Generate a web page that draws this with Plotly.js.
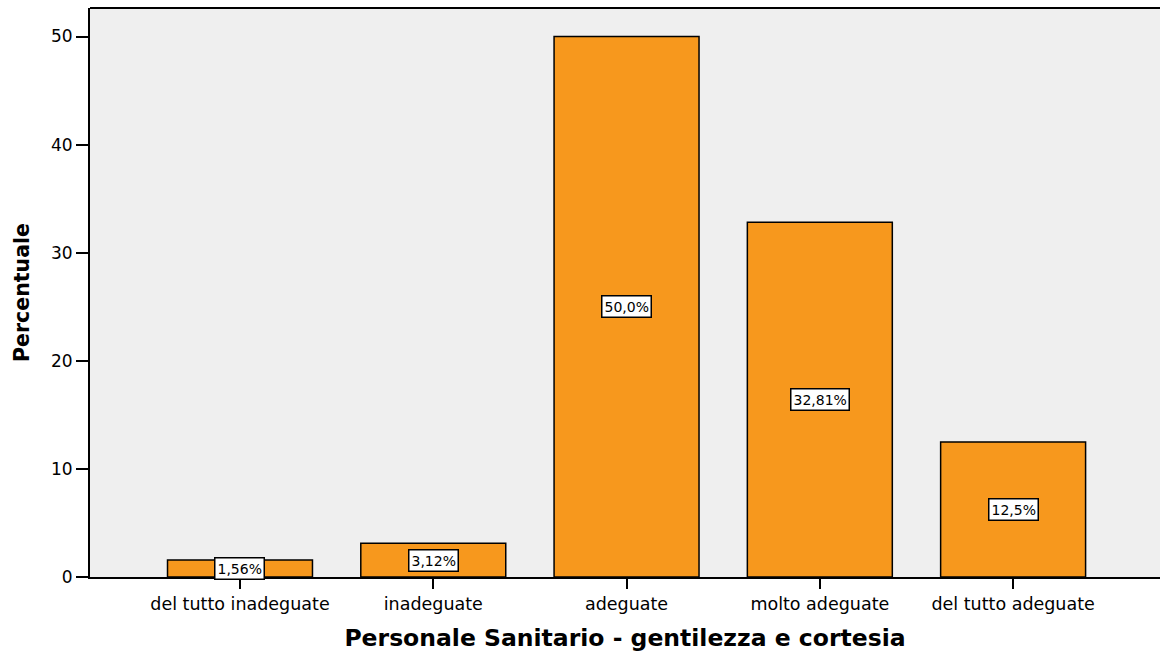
<!DOCTYPE html>
<html>
<head>
<meta charset="utf-8">
<script src="https://cdn.plot.ly/plotly-3.0.1.min.js"></script>
<style>
  html, body { margin: 0; padding: 0; background: #fff; }
  #chart { width: 1160px; height: 654px; }
</style>
</head>
<body>
<div id="chart"></div>
<script>
// Risposte: Personale Sanitario - gentilezza e cortesia
const categories = ['del tutto inadeguate', 'inadeguate', 'adeguate', 'molto adeguate', 'del tutto adeguate'];
const percentValues = [1.5625, 3.125, 50.0, 32.8125, 12.5];
const percentLabels = ['1,56%', '3,12%', '50,0%', '32,81%', '12,5%'];
const yTicks = [0, 10, 20, 30, 40, 50];

const FONT = 'DejaVu Sans, Arial, sans-serif';

const barTrace = {
  x: categories,
  y: percentValues,
  type: 'bar',
  width: 0.75,
  marker: {
    color: '#F7981D',
    line: { color: '#000000', width: 1.5 }
  },
  hoverinfo: 'skip',
  showlegend: false
};

// White boxed labels at the middle of each bar
const labelAnnotations = categories.map((c, i) => ({
  x: c,
  y: percentValues[i] / 2,
  xref: 'x',
  yref: 'y',
  text: percentLabels[i],
  showarrow: false,
  font: { family: FONT, size: 14, color: '#000' },
  bgcolor: '#FFFFFF',
  bordercolor: '#000000',
  borderwidth: 1.5,
  borderpad: 2
}));

const layout = {
  width: 1160,
  height: 654,
  paper_bgcolor: '#FFFFFF',
  plot_bgcolor: '#EFEFEF',
  margin: { t: 8, r: 0, b: 77, l: 90 },
  font: { family: FONT, color: '#000' },
  xaxis: {
    type: 'category',
    range: [-0.776, 4.76],
    showline: true,
    linecolor: '#000',
    linewidth: 2,
    ticks: 'outside',
    ticklen: 10,
    tickwidth: 2,
    tickcolor: '#000',
    showgrid: false,
    zeroline: false,
    tickfont: { size: 17.5 },
    title: {
      text: 'Personale Sanitario - gentilezza e cortesia',
      font: { size: 23.5, weight: 'bold' },
      standoff: 17
    }
  },
  yaxis: {
    range: [0, 52.64],
    tickvals: yTicks,
    showline: true,
    linecolor: '#000',
    linewidth: 2,
    ticks: 'outside',
    ticklen: 12,
    tickwidth: 2,
    tickcolor: '#000',
    showgrid: false,
    zeroline: false,
    tickfont: { size: 17 },
    title: {
      text: 'Percentuale',
      font: { size: 20.5, weight: 'bold' },
      standoff: 16
    }
  },
  shapes: [{
    type: 'line',
    xref: 'paper', yref: 'paper',
    x0: 0, x1: 1, y0: 1, y1: 1,
    line: { color: '#000', width: 2 }
  }],
  annotations: labelAnnotations,
  bargap: 0.25
};

Plotly.newPlot('chart', [barTrace], layout, { displayModeBar: false, staticPlot: true });
</script>
</body>
</html>
